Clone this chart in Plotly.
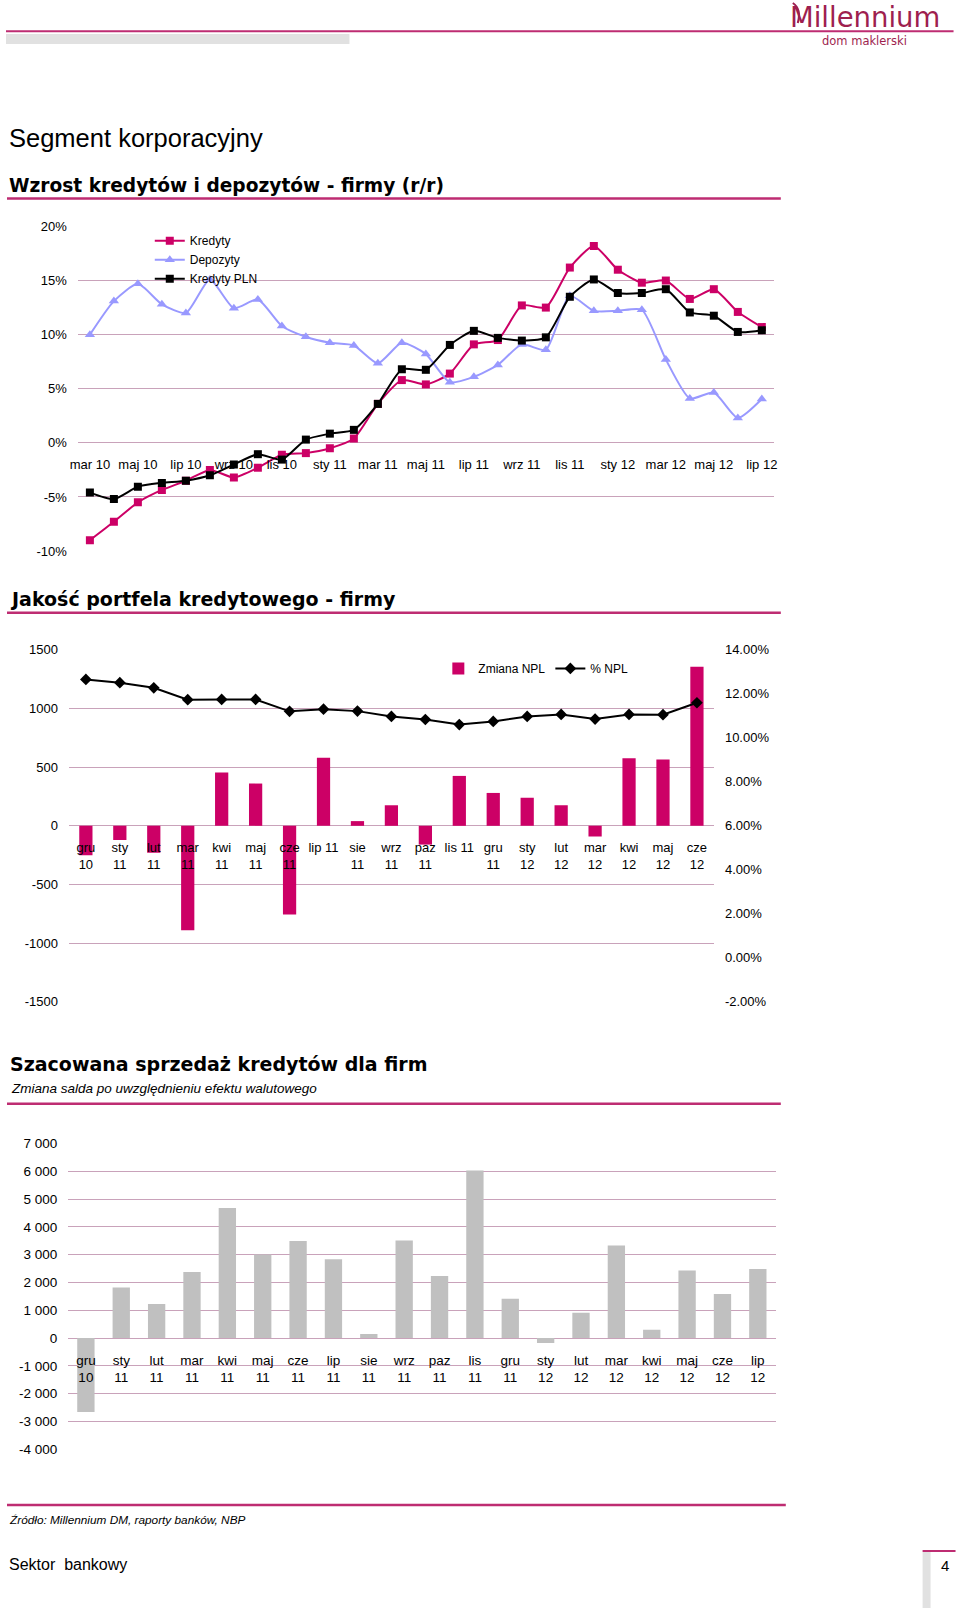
import plotly.graph_objects as go

# The page is photographed inside an 8px frame at a scale of 1595/1611, so the
# figure is laid out in the coordinates of that inner picture area.
FIG_W, FIG_H, OFF = 960, 1611, 8
SC = (FIG_H - 2 * OFF) / FIG_H
IN_W, IN_H = FIG_W * SC, FIG_H * SC
def X(px): return (px - OFF) / IN_W
def Y(py): return 1 - (py - OFF) / IN_H

# ---------------- data ----------------
months1 = ["mar 10", "kwi 10", "maj 10", "cze 10", "lip 10", "sie 10", "wrz 10", "paź 10", "lis 10", "gru 10",
           "sty 11", "lut 11", "mar 11", "kwi 11", "maj 11", "cze 11", "lip 11", "sie 11", "wrz 11", "paź 11",
           "lis 11", "gru 11", "sty 12", "lut 12", "mar 12", "kwi 12", "maj 12", "cze 12", "lip 12"]
kredyty = [-9.0, -7.3, -5.5, -4.35, -3.5, -2.5, -3.2, -2.3, -1.1, -0.95, -0.5, 0.4, 3.6, 5.8, 5.4, 6.4,
           9.1, 9.5, 12.7, 12.5, 16.2, 18.2, 16.0, 14.8, 15.0, 13.3, 14.2, 12.1, 10.7]
depozyty = [10.0, 13.1, 14.7, 12.8, 12.0, 15.1, 12.45, 13.25, 10.8, 9.8, 9.25, 9.0, 7.35, 9.25, 8.2, 5.6,
            6.1, 7.2, 9.1, 8.6, 13.6, 12.2, 12.2, 12.3, 7.7, 4.1, 4.65, 2.3, 4.05]
kredyty_pln = [-4.6, -5.2, -4.05, -3.7, -3.5, -3.0, -2.0, -1.05, -1.55, 0.3, 0.85, 1.2, 3.6, 6.8, 6.75, 9.05,
               10.35, 9.7, 9.45, 9.75, 13.5, 15.1, 13.85, 13.85, 14.2, 12.05, 11.75, 10.25, 10.4]
ticks1 = months1[::2]
yticks1 = [-10, -5, 0, 5, 10, 15, 20]

months2 = ["gru<br>10", "sty<br>11", "lut<br>11", "mar<br>11", "kwi<br>11", "maj<br>11", "cze<br>11",
           "lip 11", "sie<br>11", "wrz<br>11", "paz<br>11", "lis 11", "gru<br>11", "sty<br>12", "lut<br>12",
           "mar<br>12", "kwi<br>12", "maj<br>12", "cze<br>12"]
zmiana_npl = [-250, -120, -230, -890, 455, 360, -755, 580, 40, 175, -160, 425, 280, 240, 175, -90, 575, 565, 1355]
pct_npl = [12.65, 12.5, 12.27, 11.73, 11.74, 11.74, 11.2, 11.3, 11.21, 10.97, 10.83, 10.6, 10.74, 10.97,
           11.06, 10.85, 11.06, 11.05, 11.59]
yticks2 = [-1500, -1000, -500, 0, 500, 1000, 1500]
yticks2r = [-2, 0, 2, 4, 6, 8, 10, 12, 14]

months3 = ["gru<br>10", "sty<br>11", "lut<br>11", "mar<br>11", "kwi<br>11", "maj<br>11", "cze<br>11",
           "lip<br>11", "sie<br>11", "wrz<br>11", "paz<br>11", "lis<br>11", "gru<br>11", "sty<br>12",
           "lut<br>12", "mar<br>12", "kwi<br>12", "maj<br>12", "cze<br>12", "lip<br>12"]
sprzedaz = [-2660, 1820, 1220, 2370, 4680, 3000, 3490, 2830, 145, 3510, 2230, 6030, 1415, -180, 910,
            3330, 300, 2430, 1580, 2480]
yticks3 = [-4000, -3000, -2000, -1000, 0, 1000, 2000, 3000, 4000, 5000, 6000, 7000]

# ---------------- style ----------------
MAG = "#CC0066"
LAV = "#9999FF"
GRID = "#C9A2BA"
RULE = "#BE2C72"
LOGO = "#9E1F4F"
FONT = "Liberation Sans, Arial, sans-serif"
BOLD = "DejaVu Sans, sans-serif"

fig = go.Figure()

# Chart 1
fig.add_trace(go.Scatter(x=months1, y=kredyty, name="Kredyty", mode="lines+markers",
                         line=dict(color=MAG, width=2, shape="spline", smoothing=0.6),
                         marker=dict(symbol="square", size=8, color=MAG),
                         xaxis="x", yaxis="y", legend="legend"))
fig.add_trace(go.Scatter(x=months1, y=depozyty, name="Depozyty", mode="lines+markers",
                         line=dict(color=LAV, width=2, shape="spline", smoothing=0.6),
                         marker=dict(symbol="triangle-up", size=9, color=LAV),
                         xaxis="x", yaxis="y", legend="legend"))
fig.add_trace(go.Scatter(x=months1, y=kredyty_pln, name="Kredyty PLN", mode="lines+markers",
                         line=dict(color="black", width=2, shape="spline", smoothing=0.6),
                         marker=dict(symbol="square", size=8, color="black"),
                         xaxis="x", yaxis="y", legend="legend"))

# Chart 2
fig.add_trace(go.Bar(x=months2, y=zmiana_npl, name="Zmiana NPL", marker=dict(color=MAG, line=dict(width=0)),
                     width=0.39, xaxis="x2", yaxis="y2", legend="legend2"))
fig.add_trace(go.Scatter(x=months2, y=pct_npl, name="% NPL", mode="lines+markers",
                         line=dict(color="black", width=2),
                         marker=dict(symbol="diamond", size=9, color="black"),
                         xaxis="x2", yaxis="y3", legend="legend2"))

# Chart 3
fig.add_trace(go.Bar(x=months3, y=sprzedaz, name="Sprzedaż", marker=dict(color="#C0C0C0", line=dict(width=0)),
                     width=0.49, xaxis="x3", yaxis="y4", showlegend=False))

tickfont = dict(family=FONT, size=13, color="black")
tickfont3 = dict(family=FONT, size=13.5, color="black")

def yax(dom_top, dom_bot, rng, vals, texts, **kw):
    d = dict(domain=[Y(dom_bot), Y(dom_top)], range=rng, tickmode="array", tickvals=vals, ticktext=texts,
             showgrid=True, gridcolor=GRID, gridwidth=1, zeroline=False, showline=False,
             ticks="", tickfont=tickfont, ticklabelstandoff=10, fixedrange=True)
    d.update(kw)
    return d

def xax(left, right, zero_py, n, **kw):
    d = dict(domain=[X(left), X(right)], range=[-0.5, n - 0.5], type="category",
             anchor="free", position=Y(zero_py), showgrid=False, zeroline=False, showline=False,
             ticks="", tickfont=tickfont, tickangle=0, fixedrange=True)
    d.update(kw)
    return d

fig.update_layout(
    width=FIG_W, height=FIG_H, autosize=False,
    margin=dict(l=0, r=0, t=0, b=0),
    paper_bgcolor="white", plot_bgcolor="rgba(0,0,0,0)",
    font=dict(family=FONT, color="black"),
    xaxis=xax(78, 775, 443.7, len(months1), tickmode="array", tickvals=ticks1, ticklabelstandoff=12),
    yaxis=yax(227.3, 551.7, [-10, 20], yticks1, [f"{v}%" for v in yticks1], anchor="x"),
    xaxis2=xax(69, 715, 826.3, len(months2), ticklabelstandoff=12),
    yaxis2=yax(650.3, 1002.3, [-1500, 1500], yticks2, [str(v) for v in yticks2], anchor="x2"),
    yaxis3=dict(overlaying="y2", side="right", range=[-2, 14], tickmode="array", tickvals=yticks2r,
                ticktext=[f"{v:.2f}%" for v in yticks2r],
                showgrid=False, zeroline=False, showline=False, ticks="",
                tickfont=tickfont, ticklabelstandoff=10, anchor="x2", fixedrange=True),
    xaxis3=xax(68.3, 776.7, 1338.3, len(months3), ticklabelstandoff=12, tickfont=tickfont3),
    yaxis4=yax(1143.7, 1449.3, [-4000, 7000], yticks3, [f"{v:,}".replace(",", " ") for v in yticks3],
               anchor="x3", tickfont=tickfont3),
    legend=dict(x=X(150), y=Y(227), xanchor="left", yanchor="top", bgcolor="rgba(0,0,0,0)",
                font=dict(family=FONT, size=12), tracegroupgap=0, itemwidth=30),
    legend2=dict(x=X(439), y=Y(669), xanchor="left", yanchor="middle", orientation="h",
                 bgcolor="rgba(0,0,0,0)", font=dict(family=FONT, size=12), itemwidth=30),
    barmode="overlay",
)

# ---------------- page decoration ----------------
def hline(y, x0, x1, color=RULE, w=2.5):
    fig.add_shape(type="line", xref="paper", yref="paper", x0=X(x0), x1=X(x1), y0=Y(y), y1=Y(y),
                  line=dict(color=color, width=w), layer="above")

def rect(x0, y0, x1, y1, color):
    fig.add_shape(type="rect", xref="paper", yref="paper", x0=X(x0), x1=X(x1), y0=Y(y1), y1=Y(y0),
                  fillcolor=color, line=dict(width=0), layer="below")

hline(32.3, 6, 955, w=2)
rect(6, 35, 350, 45, "#E1E1E1")
hline(199.5, 7, 782)
hline(613.3, 7, 782)
hline(1104, 7, 782)
hline(1505, 7, 787)
hline(1551, 924, 957, w=2)
rect(924, 1552, 932, 1608, "#E1E1E1")

# swoosh of the logo's M
fig.add_shape(type="path", xref="paper", yref="paper",
              path=f"M {X(794)},{Y(4)} Q {X(803)},{Y(10)} {X(799)},{Y(24)}",
              line=dict(color=LOGO, width=2))

def text(s, x, y, size, family=FONT, color="black", xanchor="left", **kw):
    fig.add_annotation(text=s, x=X(max(x, OFF)), y=Y(y), xref="paper", yref="paper", showarrow=False,
                       xanchor=xanchor, yanchor="middle",
                       font=dict(family=family, size=size, color=color),
                       borderpad=0, **kw)

text("Millennium", 866, 18, 27.5, family="DejaVu Sans, sans-serif", color=LOGO, xanchor="center")
text("dom maklerski", 866, 41.5, 11.5, family="DejaVu Sans, sans-serif", color=LOGO, xanchor="center")
text("Segment korporacyjny", 6, 138.5, 25.5)
text("<b>Wzrost kredytów i depozytów - firmy (r/r)</b>", 8, 186, 18.6, family=BOLD)
text("<b>Jakość portfela kredytowego - firmy</b>", 9, 600, 19, family=BOLD)
text("<b>Szacowana sprzedaż kredytów dla firm</b>", 9, 1064, 19, family=BOLD)
text("<i>Zmiana salda po uwzględnieniu efektu walutowego</i>", 10, 1089, 13.5)
text("<i>Źródło: Millennium DM, raporty banków, NBP</i>", 8, 1520, 11.8)
text("Sektor\u00a0 bankowy", 2, 1565, 16)
text("4", 946, 1566, 15, xanchor="center")

fig.write_html("out.html", config={"displayModeBar": False},
               post_script="document.documentElement.style.margin='0';document.body.style.margin='0';")
